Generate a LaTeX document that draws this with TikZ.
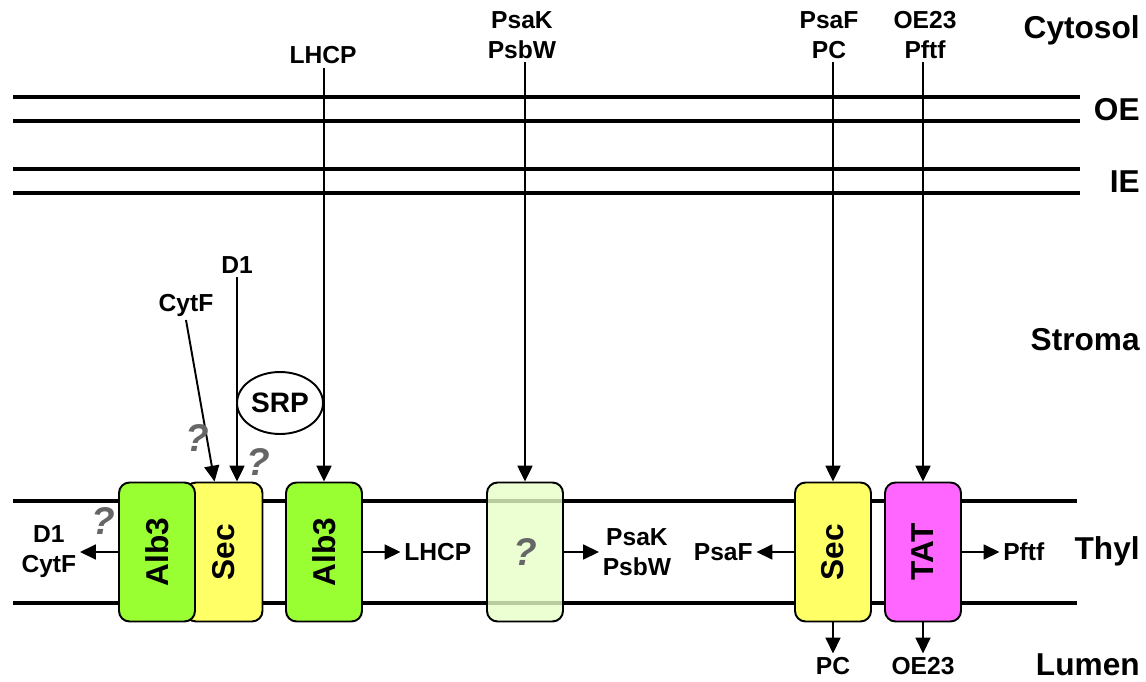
\documentclass[tikz,border=0pt]{standalone}
\usepackage{fontspec}
\setmainfont{Liberation Sans}
\usepackage{xcolor}
\usepackage{tikz}
\usetikzlibrary{arrows.meta,positioning,calc,shapes.geometric}

\definecolor{albgreen}{HTML}{99FF33}
\definecolor{secyellow}{HTML}{FFFF66}
\definecolor{tatpink}{HTML}{FF66FF}
\definecolor{unkgreen}{HTML}{E6FFC8}

\begin{document}
\begin{tikzpicture}[
  x=0.02cm, y=-0.02cm,
  node distance=0.7cm,
  membrane/.style={line width=2.3pt},
  box/.style={rectangle, draw, line width=1.1pt, rounded corners=6pt, minimum width=1.52cm, minimum height=2.78cm, inner sep=0pt},
  boxtext/.style={rotate=90, font=\bfseries\fontsize{18}{19}\selectfont},
  lbl/.style={align=center, inner sep=2pt, font=\bfseries\fontsize{14}{17}\selectfont},
  region/.style={anchor=east, inner sep=0pt, font=\bfseries\fontsize{18}{20}\selectfont},
  qmark/.style={text=black!60, font=\bfseries\itshape\fontsize{22}{24}\selectfont},
  arrow/.style={-{Triangle[length=9pt, width=8.5pt]}, line width=1.1pt}
]
  \useasboundingbox (0,0) rectangle (1146,682);

  % envelope and thylakoid membranes
  \draw[membrane] (13,97) -- (1080,97);
  \draw[membrane] (13,121) -- (1080,121);
  \draw[membrane] (13,169) -- (1080,169);
  \draw[membrane] (13,193) -- (1080,193);
  \draw[membrane] (13,501) -- (1077,501);
  \draw[membrane] (13,603) -- (1077,603);

  % compartments
  \node[region] (cytosol) at (1140,30) {Cytosol};
  \node[region] (oe) at (1140,110) {OE};
  \node[region] (ie) at (1140,182) {IE};
  \node[region] (stroma) at (1140,340) {Stroma};
  \node[region] (thyl) at (1140,551) {Thyl};
  \node[region] (lumen) at (1140,665) {Lumen};

  % translocases
  \node[box, fill=secyellow, minimum width=1.54cm] (sec1) at (224,552) {};
  \node[box, fill=albgreen] (alb1) at (157,552) {};
  \node[box, fill=albgreen] (alb2) at (324,552) {};
  \node[box, fill=unkgreen, fill opacity=0.8] (unk) at (525,552) {};
  \node[box, fill=secyellow] (sec2) at (833,552) {};
  \node[box, fill=tatpink] (tat) at (923,552) {};
  \node[boxtext] at (alb1) {Alb3};
  \node[boxtext] at (sec1) {Sec};
  \node[boxtext] at (alb2) {Alb3};
  \node[boxtext] at (sec2) {Sec};
  \node[boxtext] at (tat) {TAT};
  \node[qmark] (qunk) at (unk) {?};

  % stromal side substrates
  \node[lbl] (lhcptop) at (323,55) {LHCP};
  \node[lbl] (psaktop) at (522,35) {PsaK\\PsbW};
  \node[lbl] (psaftop) at (829,35) {PsaF\\PC};
  \node[lbl] (oe23top) at (925,35) {OE23\\Pftf};
  \node[lbl] (d1top) at (237,265) {D1};
  \node[lbl] (cytftop) at (186,305) {CytF};
  \node[ellipse, draw, line width=1.1pt, minimum width=1.72cm, minimum height=1.24cm, inner sep=0pt,
        font=\bfseries\fontsize{16}{18}\selectfont] (srp) at (280,403) {SRP};

  \draw[arrow] (lhcptop.south -| alb2.north) -- (alb2.north);
  \draw[arrow] (psaktop.south -| unk.north) -- (unk.north);
  \draw[arrow] (psaftop.south -| sec2.north) -- (sec2.north);
  \draw[arrow] (oe23top.south -| tat.north) -- (tat.north);
  \draw[arrow] (d1top.south) -- (d1top.south |- sec1.north);
  \coordinate (cytfin) at ($(sec1.north west)+(30,0)$);
  \draw[arrow] (cytftop.south) -- (cytfin);

  \node[qmark] (q1) at (197,438) {?};
  \node[qmark] (q2) at (258,462) {?};
  \node[qmark] (q3) at (103,521) {?};

  % products in the membrane and lumen
  \node[lbl, left=0.76cm of alb1] (d1out) {D1\\CytF};
  \node[lbl, right=0.75cm of alb2] (lhcpout) {LHCP};
  \node[lbl, right=0.7cm of unk] (psakout) {PsaK\\PsbW};
  \node[lbl, left=0.75cm of sec2] (psafout) {PsaF};
  \node[lbl, right=0.75cm of tat] (pftfout) {Pftf};
  \node[lbl, below=0.62cm of sec2] (pcout) {PC};
  \node[lbl, below=0.62cm of tat] (oe23out) {OE23};

  \draw[arrow] (alb1) -- (d1out);
  \draw[arrow] (alb2) -- (lhcpout);
  \draw[arrow] (unk) -- (psakout);
  \draw[arrow] (sec2) -- (psafout);
  \draw[arrow] (tat) -- (pftfout);
  \draw[arrow] (sec2) -- (pcout);
  \draw[arrow] (tat) -- (oe23out);
\end{tikzpicture}
\end{document}
